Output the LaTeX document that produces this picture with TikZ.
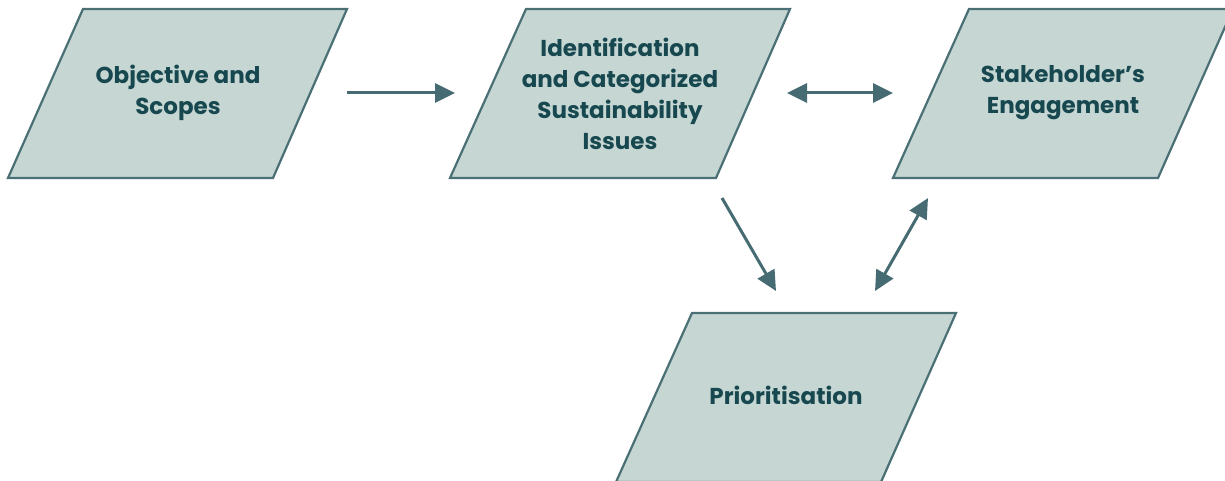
\documentclass[tikz,border=0pt]{standalone}
\usepackage{fontspec}
\setmainfont{Poppins}[BoldFont={* Bold}]
\usetikzlibrary{arrows.meta}
\definecolor{boxfill}{HTML}{C5D6D3}
\definecolor{boxline}{HTML}{4A7076}
\definecolor{arrowcol}{HTML}{466B73}
\definecolor{textcol}{HTML}{17474F}
\tikzset{
  para/.style={draw=boxline, fill=boxfill, line width=2.2pt, line join=miter},
  label/.style={text=textcol, font=\fontsize{23}{31}\selectfont\bfseries, align=center},
  conn/.style={draw=arrowcol, line width=3pt, -{Triangle[length=20pt,width=19pt]}},
  dconn/.style={draw=arrowcol, line width=3pt, {Triangle[length=20pt,width=19pt]}-{Triangle[length=20pt,width=19pt]}}
}
\begin{document}
\begin{tikzpicture}[x=1pt,y=-1pt]
\useasboundingbox (0,0) rectangle (1225,481);
\clip (0,0) rectangle (1225,481);
% shapes
\path[para] (83,9) -- (347,9) -- (273,178) -- (8,178) -- cycle;
\path[para] (526,9) -- (790,9) -- (716,178) -- (450,178) -- cycle;
\path[para] (969,9) -- (1233,9) -- (1158,178) -- (893,178) -- cycle;
\path[para] (692,313) -- (956,313) -- (881,482) -- (616,482) -- cycle;
% labels
\node[label] (obj) at (178,93) {Objective and\\Scopes};
\node[label] (ident) at (620,94) {Identification\\and Categorized\\Sustainability\\Issues};
\node[label] (stake) at (1063,93) {Stakeholder’s\\Engagement};
\node[label] (prio) at (786,395) {Prioritisation};
% connector ends
\coordinate (a1s) at (347,93); \coordinate (a1e) at (455,93);
\coordinate (a2s) at (787,93); \coordinate (a2e) at (893,93);
\coordinate (a3s) at (722,198); \coordinate (a3e) at (776,291);
\coordinate (a4s) at (875,291); \coordinate (a4e) at (928,198);
\draw[conn] (a1s) -- (a1e);
\draw[dconn] (a2s) -- (a2e);
\draw[conn] (a3s) -- (a3e);
\draw[dconn] (a4s) -- (a4e);
\end{tikzpicture}
\end{document}
